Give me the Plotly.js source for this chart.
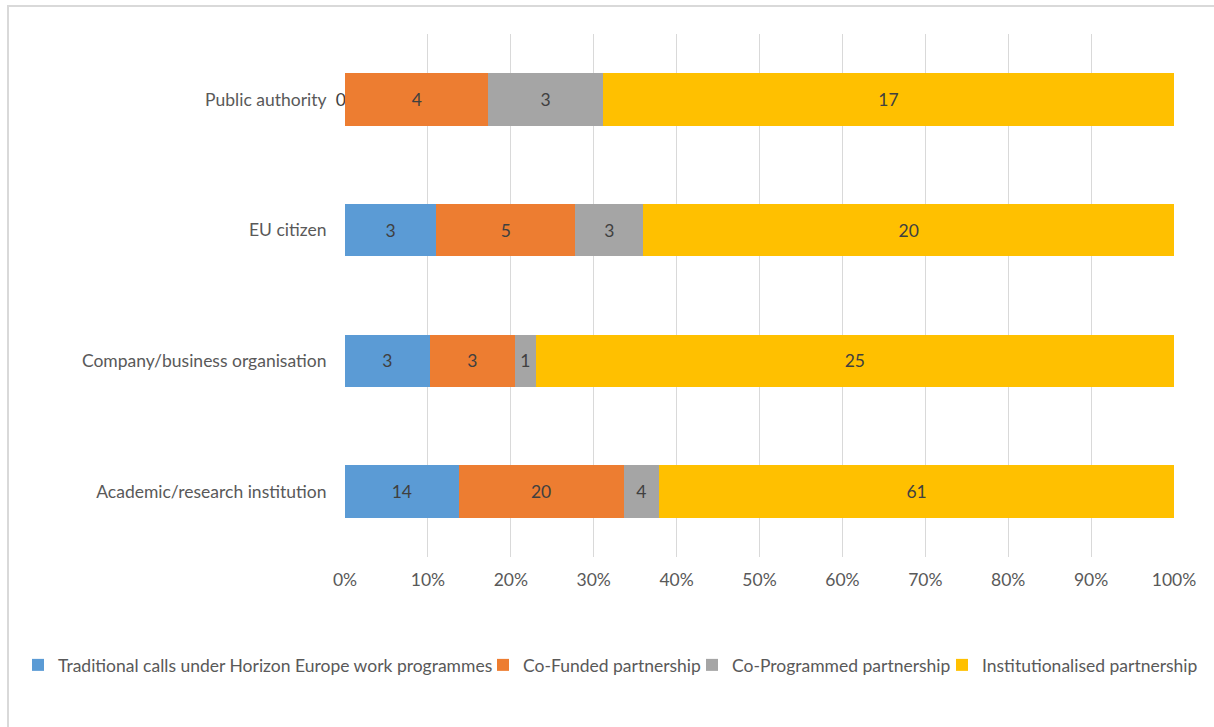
<!DOCTYPE html>
<html>
<head>
<meta charset="utf-8">
<script src="https://cdn.plot.ly/plotly-3.0.1.min.js"></script>
<style>
  html, body { margin: 0; padding: 0; background: #ffffff; overflow: hidden; }
  #wrap { position: relative; width: 1214px; height: 727px; }
  #chart { position: absolute; left: 0; top: 0; width: 1214px; height: 727px; }
  #frame { position: absolute; left: 7px; top: 5px; width: 1220px; height: 740px;
           border-left: 2px solid #d9d9d9; border-top: 2px solid #d9d9d9; pointer-events: none; }
</style>
</head>
<body>
<div id="wrap">
  <div id="chart"></div>
  <div id="frame"></div>
</div>
<script>
// Categories (bottom to top)
const categories = [
  'Academic/research institution',
  'Company/business organisation',
  'EU citizen',
  'Public authority'
];

// Series names
const seriesNames = [
  'Traditional calls under Horizon Europe work programmes',
  'Co-Funded partnership',
  'Co-Programmed partnership',
  'Institutionalised partnership'
];

// Shares of each bar (percent)
const shareTraditional = [13.7, 10.2, 11.0, 0.05];
const shareCoFunded    = [19.9, 10.3, 16.8, 17.25];
const shareCoProgrammed = [4.3, 2.5, 8.2, 13.8];
const shareInstitutional = [62.1, 77.0, 64.0, 68.9];

// Counts shown as data labels
const countTraditional = [14, 3, 3, 0];
const countCoFunded    = [20, 3, 5, 4];
const countCoProgrammed = [4, 1, 3, 3];
const countInstitutional = [61, 25, 20, 17];

// X axis ticks
const xTickVals = [0, 10, 20, 30, 40, 50, 60, 70, 80, 90, 100];
const xTickText = ['0%', '10%', '20%', '30%', '40%', '50%', '60%', '70%', '80%', '90%', '100%'];

const colors = ['#5B9BD5', '#ED7D31', '#A5A5A5', '#FFC000'];
const FONT = 'Lato, "Open Sans", "DejaVu Sans", sans-serif';
const FS = 17.5;

const shares = [shareTraditional, shareCoFunded, shareCoProgrammed, shareInstitutional];
const counts = [countTraditional, countCoFunded, countCoProgrammed, countInstitutional];
const legendIds = ['legend', 'legend2', 'legend3', 'legend4'];

// label text: a zero-width segment's "0" sits just left of the next segment
function labelText(v, share) {
  return share < 0.5 ? String(v) + '\u2002' : String(v);
}

const traces = seriesNames.map((name, i) => ({
  type: 'bar',
  orientation: 'h',
  name: name,
  legend: legendIds[i],
  y: categories,
  x: shares[i],
  text: counts[i].map((v, j) => labelText(v, shares[i][j])),
  textposition: 'inside',
  insidetextanchor: 'middle',
  textangle: 0,
  constraintext: 'none',
  cliponaxis: false,
  textfont: { family: FONT, size: FS, color: '#404040' },
  marker: { color: colors[i], line: { width: 0 } },
  hoverinfo: 'skip'
}));

// legend text start positions (px)
const legendTextX = [58, 523, 732, 982];

function legendCfg(textX) {
  return {
    orientation: 'h',
    xref: 'container',
    yref: 'container',
    x: (textX - 40) / 1214,
    xanchor: 'left',
    y: 1 - 665 / 727,
    yanchor: 'middle',
    font: { family: FONT, size: FS, color: '#595959' },
    itemwidth: 30,
    borderwidth: 0,
    bgcolor: 'rgba(0,0,0,0)'
  };
}

const layout = {
  width: 1214,
  height: 727,
  paper_bgcolor: '#ffffff',
  plot_bgcolor: '#ffffff',
  barmode: 'stack',
  bargap: 0.6,
  margin: { l: 344.5, r: 40, t: 34, b: 169.5, pad: 0 },
  font: { family: FONT, size: FS, color: '#595959' },
  showlegend: true,
  xaxis: {
    range: [0, 100],
    tickvals: xTickVals,
    ticktext: xTickText,
    showgrid: true,
    gridcolor: '#d9d9d9',
    gridwidth: 1,
    zeroline: false,
    showline: false,
    ticks: 'outside',
    ticklen: 7,
    tickcolor: 'rgba(0,0,0,0)',
    tickfont: { family: FONT, size: FS, color: '#595959' },
    fixedrange: true
  },
  yaxis: {
    categoryorder: 'array',
    categoryarray: categories,
    showgrid: false,
    zeroline: false,
    showline: false,
    ticks: 'outside',
    ticklen: 14,
    tickcolor: 'rgba(0,0,0,0)',
    tickfont: { family: FONT, size: FS, color: '#595959' },
    fixedrange: true
  },
  legend: legendCfg(legendTextX[0]),
  legend2: legendCfg(legendTextX[1]),
  legend3: legendCfg(legendTextX[2]),
  legend4: legendCfg(legendTextX[3])
};

Plotly.newPlot('chart', traces, layout, { displayModeBar: false, staticPlot: true });
</script>
</body>
</html>
